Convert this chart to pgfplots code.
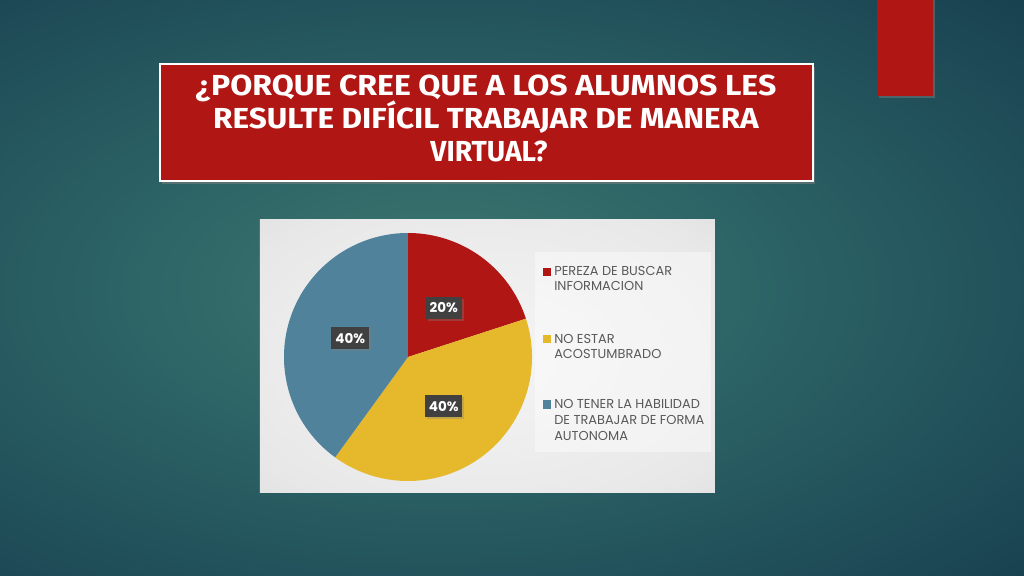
\documentclass[border=0pt]{standalone}
\usepackage{fontspec}
\usepackage{pgfplots}
\pgfplotsset{compat=1.18}
\usepackage{pgfplotstable}
\usetikzlibrary{shadows}
\setmainfont{Poppins}
\newfontfamily\titlefont{Fira Sans}

\definecolor{bgIn}{RGB}{60,120,112}
\definecolor{bgMid}{RGB}{42,96,100}
\definecolor{bgMid2}{RGB}{26,68,82}
\definecolor{bgOut}{RGB}{15,44,62}
\definecolor{slideRed}{RGB}{176,22,20}
\definecolor{pieRed}{RGB}{176,22,20}
\definecolor{pieYellow}{RGB}{230,184,44}
\definecolor{pieBlue}{RGB}{80,130,156}
\definecolor{legendGray}{RGB}{89,89,89}
\definecolor{boxGray}{RGB}{64,64,64}

\pgfdeclareradialshading{bgshade}{\pgfpoint{0bp}{0bp}}{%
  color(0bp)=(bgIn); color(16bp)=(bgMid); color(33bp)=(bgMid2); color(50bp)=(bgOut); color(71bp)=(bgOut)}
\pgfdeclareradialshading{chartshade}{\pgfpoint{0bp}{0bp}}{%
  color(0bp)=(white!96!black); color(30bp)=(white!91!black); color(71bp)=(white!77!black)}

% share of answers, in percent
\pgfplotstableread{
slice value
1 20
2 40
3 40
}\piedata

\begin{document}
\begin{tikzpicture}
 \pgfplotstablegetelem{0}{value}\of\piedata \pgfmathsetmacro\valA{\pgfplotsretval}
 \pgfplotstablegetelem{1}{value}\of\piedata \pgfmathsetmacro\valB{\pgfplotsretval}
 \pgfplotstablegetelem{2}{value}\of\piedata \pgfmathsetmacro\valC{\pgfplotsretval}
 \pgfmathsetmacro\angA{90}
 \pgfmathsetmacro\angB{\angA-3.6*\valA}
 \pgfmathsetmacro\angC{\angB-3.6*\valB}
 \pgfmathsetmacro\angD{\angC-3.6*\valC}

 \begin{scope}[x=0.25mm,y=-0.25mm]
  \begin{scope}
   \clip (0,0) rectangle (1024,576);
   \shade[shading=bgshade] (-144,-10) rectangle (1024,590);
  \end{scope}
  \fill[slideRed, drop shadow={opacity=0.45, shadow xshift=0.4mm, shadow yshift=-0.5mm}] (877,-10) rectangle (933,96);

  \filldraw[fill=slideRed, draw=white, line width=0.45mm,
    drop shadow={opacity=0.5, shadow xshift=0.4mm, shadow yshift=-0.7mm}] (160,64) rectangle (813,181);
  \begin{scope}[every node/.style={anchor=base, text=white, inner sep=0,
      font=\titlefont\bfseries\fontsize{20.6}{24}\selectfont}]
   \node at (486,95) {\scalebox{1.105}[1]{¿PORQUE CREE QUE A LOS ALUMNOS LES}};
   \node at (486,128) {\scalebox{1.088}[1]{RESULTE DIFÍCIL TRABAJAR DE MANERA}};
   \node at (489,161) {\scalebox{0.975}[1]{VIRTUAL?}};
  \end{scope}

  \shade[shading=chartshade] (260,220) rectangle (715,493);
  \fill[white, opacity=0.4] (535,252) rectangle (711,452);

  \begin{scope}[every node/.style={anchor=base west, text=legendGray, inner sep=0,
      font=\fontsize{9.2}{11}\selectfont}]
   \fill[pieRed] (543,268) rectangle (551,276);
   \node at (554,276) {PEREZA DE BUSCAR};
   \node at (554,291) {INFORMACION};
   \fill[pieYellow] (543,335) rectangle (551,343.5);
   \node at (554,343.5) {NO ESTAR};
   \node at (554,358.5) {ACOSTUMBRADO};
   \fill[pieBlue] (543,400.5) rectangle (551,409);
   \node at (554,409) {NO TENER LA HABILIDAD};
   \node at (554,425) {DE TRABAJAR DE FORMA};
   \node at (554,440.5) {AUTONOMA};
  \end{scope}

  \coordinate (pc) at (408,357);
 \end{scope}

 \begin{axis}[
   at={(pc)}, anchor=center,
   width=62mm, height=62mm, scale only axis,
   xmin=-1, xmax=1, ymin=-1, ymax=1,
   hide axis, clip=false]
  \fill[pieRed] (axis cs:0,0) -- (axis cs:{cos(\angA)},{sin(\angA)})
    arc[start angle=\angA, end angle=\angB, radius=31mm] -- cycle;
  \fill[pieYellow] (axis cs:0,0) -- (axis cs:{cos(\angB)},{sin(\angB)})
    arc[start angle=\angB, end angle=\angC, radius=31mm] -- cycle;
  \fill[pieBlue] (axis cs:0,0) -- (axis cs:{cos(\angC)},{sin(\angC)})
    arc[start angle=\angC, end angle=\angD, radius=31mm] -- cycle;
  \begin{scope}[every node/.style={fill=boxGray, text=white, inner xsep=2.8pt, inner ysep=4pt,
      font=\bfseries\fontsize{9.6}{12}\selectfont,
      drop shadow={opacity=0.35, shadow xshift=0.5mm, shadow yshift=-0.5mm}}]
   \node at (axis cs:{0.49*cos((\angA+\angB)/2)},{0.49*sin((\angA+\angB)/2)}) {\pgfmathprintnumber[assume math mode=true]{\valA}\%};
   \node at (axis cs:{0.49*cos((\angB+\angC)/2)},{0.49*sin((\angB+\angC)/2)}) {\pgfmathprintnumber[assume math mode=true]{\valB}\%};
   \node at (axis cs:{0.49*cos((\angC+\angD)/2)},{0.49*sin((\angC+\angD)/2)}) {\pgfmathprintnumber[assume math mode=true]{\valC}\%};
  \end{scope}
 \end{axis}

 \pgfresetboundingbox
 \path[use as bounding box] (0,0) rectangle (256mm,-144mm);
\end{tikzpicture}
\end{document}
